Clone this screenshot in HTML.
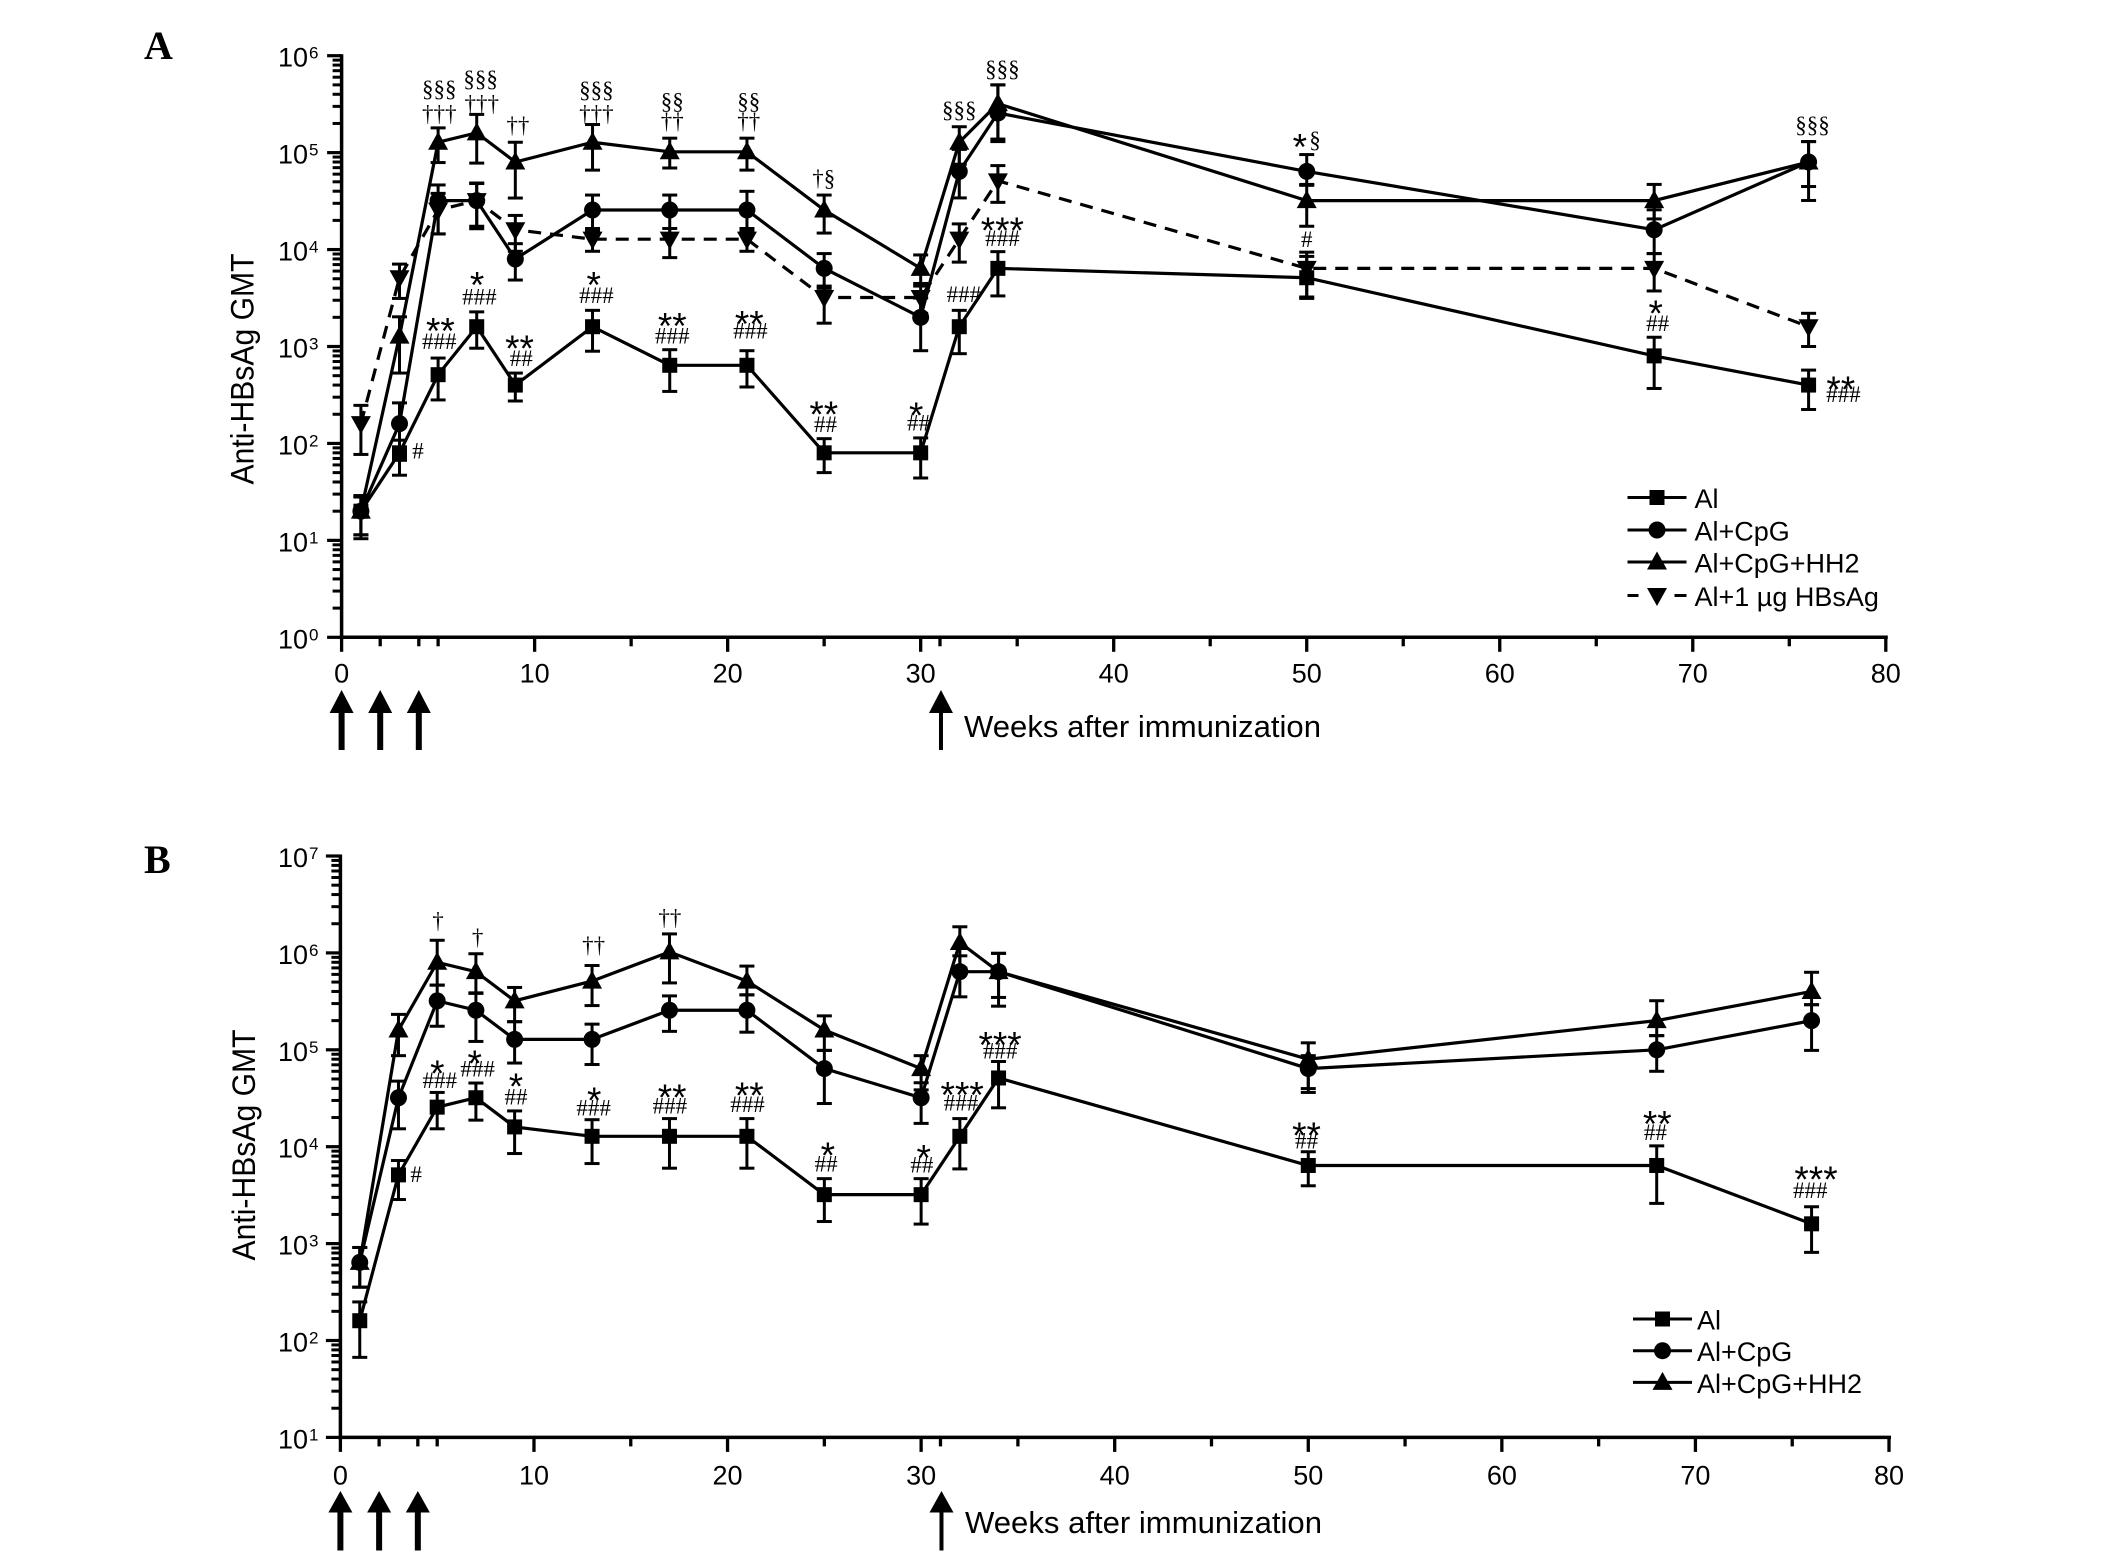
<!DOCTYPE html>
<html lang="en">
<head>
<meta charset="utf-8">
<title>Anti-HBsAg GMT over time</title>
<style>
html,body{margin:0;padding:0;background:#fff;}
svg{display:block;}
text{fill:#000;font-family:"Liberation Sans",Arial,sans-serif;}
.serif{font-family:"Liberation Serif","Times New Roman",serif;}
</style>
</head>
<body>
<svg id="chart" xmlns="http://www.w3.org/2000/svg" width="2126" height="1564" viewBox="0 0 2126 1564"></svg>
<script>
// ---------- shared data ----------
const weeks = [1, 3, 5, 7, 9, 13, 17, 21, 25, 30, 32, 34, 50, 68, 76];
const xTickLabels = [0, 10, 20, 30, 40, 50, 60, 70, 80];
const xMinorTicks = [2, 4, 5, 15, 25, 31, 35, 45, 55, 65, 75];
const immunizationWeeks = [0, 2, 4, 31];

// ---------- panel A ----------
const aAl      = [20, 80, 512, 1600, 400, 1600, 640, 640, 80, 80, 1600, 6400, 5120, 800, 400];
const aAlUp    = [29, 108, 760, 2276, 532, 2360, 927, 905, 112, 114, 2360, 9516, 8500, 1246, 571];
const aAlLow   = [10.4, 47, 281, 960, 274, 894, 344, 382, 50, 44, 843, 3325, 3133, 369, 224];

const aCpg     = [20, 160, 32000, 32000, 8000, 25600, 25600, 25600, 6400, 2000, 64000, 256000, 64000, 16000, 80000];
const aCpgUp   = [28, 262, 46400, 48600, 11500, 36500, 36500, 39900, 9090, 3160, 108000, 500000, 95500, 25700, 130000];
const aCpgLow  = [11.4, 67, 14500, 16400, 4850, 15400, 14600, 15400, 3980, 905, 34100, 130000, 46000, 9090, 44700];

const aHh2     = [20, 1280, 128000, 160000, 80000, 128000, 102000, 102000, 25600, 6400, 128000, 320000, 32000, 32000, 80000];
const aHh2Up   = [28, 2024, 180000, 248000, 128000, 195000, 141000, 141000, 36500, 8800, 185000, 500000, 47000, 47000, 130000];
const aHh2Low  = [11.4, 532, 79000, 78000, 34000, 66000, 69400, 66000, 14800, 4200, 76000, 138000, 17400, 20700, 32100];

const aDose    = [160, 5120, 25600, 32000, 16000, 12800, 12800, 12800, 3200, 3200, 12800, 51200, 6400, 6400, 1600];
const aDoseUp  = [247, 7080, 38000, 48000, 22500, 16500, 16500, 16500, 4200, 4470, 18400, 73500, 9400, 9090, 2200];
const aDoseLow = [77, 3133, 14500, 17400, 9600, 9600, 8260, 9600, 1740, 2200, 7420, 30700, 3240, 3740, 1000];

const aYTickExponents = [0, 1, 2, 3, 4, 5, 6];

// annotation entries: [week, log10 value at glyph centre, text]
const aNotes = [
  [5.06,5.65,"§§§"],[5.06,5.395,"†††"],[7.2,5.754,"§§§"],[7.26,5.498,"†††"],[9.13,5.277,"††"],
  [13.2,5.64,"§§§"],[13.2,5.395,"†††"],[17.13,5.524,"§§"],[17.13,5.318,"††"],
  [21.09,5.524,"§§"],[21.09,5.318,"††"],[24.98,4.728,"†§"],[32.0,5.436,"§§§"],[34.23,5.857,"§§§"],
  [7.02,3.70,"*"],[7.14,3.496,"###"],[13.06,3.70,"*"],[13.2,3.511,"###"],
  [5.12,3.229,"**"],[5.06,3.034,"###"],[9.22,3.049,"**"],[9.31,2.859,"##"],
  [17.13,3.28,"**"],[17.13,3.095,"###"],[21.12,3.30,"**"],[21.18,3.147,"###"],
  [24.98,2.366,"**"],[25.07,2.182,"##"],[29.77,2.356,"*"],[29.89,2.197,"##"],
  [3.96,1.904,"#"],[32.24,3.522,"###"],[34.23,4.266,"***"],[34.23,4.10,"###"],
  [49.64,5.123,"*"],[50.43,5.123,"§"],[50.0,4.09,"#"],[76.2,5.282,"§§§"],
  [68.08,3.409,"*"],[68.18,3.224,"##"],[77.67,2.623,"**"],[77.8,2.49,"###"]
];

// ---------- panel B ----------
const bAl      = [160, 5120, 25600, 32000, 16000, 12800, 12800, 12800, 3200, 3200, 12800, 51200, 6400, 6400, 1600];
const bAlUp    = [250, 7200, 36300, 45400, 23400, 19000, 19500, 19500, 4680, 4680, 19500, 75700, 8870, 10200, 2400];
const bAlLow   = [67, 2850, 15300, 18800, 8500, 6700, 6000, 6000, 1690, 1590, 5900, 25200, 3950, 2600, 812];

const bCpg     = [640, 32000, 320000, 256000, 128000, 128000, 256000, 256000, 64000, 32000, 640000, 640000, 64000, 100000, 200000];
const bCpgUp   = [912, 47500, 465000, 387000, 195000, 184000, 360000, 369000, 98600, 45700, 933000, 990000, 87000, 140000, 292000];
const bCpgLow  = [355, 15300, 175000, 122000, 73000, 70500, 155000, 152000, 27900, 17400, 352000, 282000, 36300, 60000, 98600];

const bHh2     = [640, 160000, 800000, 640000, 320000, 512000, 1024000, 512000, 160000, 64000, 1280000, 640000, 80000, 200000, 400000];
const bHh2Up   = [912, 232000, 1350000, 980000, 440000, 741000, 1570000, 731000, 224000, 87000, 1860000, 990000, 118000, 321000, 631000];
const bHh2Low  = [355, 87000, 465000, 382000, 195000, 286000, 490000, 369000, 98600, 38600, 698000, 347000, 39800, 140000, 292000];

const bYTickExponents = [1, 2, 3, 4, 5, 6, 7];

const bNotes = [
  [5.04,6.322,"†"],[7.09,6.156,"†"],[13.08,6.07,"††"],[17.02,6.357,"††"],
  [5.01,4.823,"*"],[5.13,4.667,"###"],[6.94,4.924,"*"],[7.09,4.788,"###"],
  [9.07,4.687,"*"],[9.07,4.496,"##"],[13.11,4.546,"*"],[13.08,4.385,"###"],
  [17.14,4.576,"**"],[17.02,4.405,"###"],[21.12,4.597,"**"],[21.03,4.42,"###"],
  [25.18,3.978,"*"],[25.09,3.807,"##"],[30.13,3.948,"*"],[30.04,3.797,"##"],
  [3.91,3.696,"#"],[32.12,4.602,"***"],[32.06,4.436,"###"],[34.08,5.115,"***"],[34.08,4.974,"###"],
  [49.91,4.184,"**"],[49.91,4.043,"##"],[68.03,4.30,"**"],[67.93,4.129,"##"],
  [76.23,3.731,"***"],[75.93,3.53,"###"]
];

// ---------- drawing ----------
const NS = 'http://www.w3.org/2000/svg';
const root = document.getElementById('chart');

function mk(parent, tag, name, attrs) {
  const el = document.createElementNS(NS, tag);
  
  
  for (const k in attrs) el.setAttribute(k, attrs[k]);
  parent.appendChild(el);
  return el;
}

function marker(parent, kind, cx, cy, name) {
  if (kind === 'square') {
    return mk(parent, 'rect', name, {x: cx - 7.5, y: cy - 7.5, width: 15, height: 15, fill: '#000'});
  }
  if (kind === 'circle') {
    return mk(parent, 'circle', name, {cx: cx, cy: cy, r: 8.5, fill: '#000'});
  }
  if (kind === 'up') {
    return mk(parent, 'polygon', name, {points: (cx - 10) + ',' + (cy + 7.5) + ' ' + (cx + 10) + ',' + (cy + 7.5) + ' ' + cx + ',' + (cy - 10.5), fill: '#000'});
  }
  return mk(parent, 'polygon', name, {points: (cx - 10) + ',' + (cy - 7.5) + ' ' + (cx + 10) + ',' + (cy - 7.5) + ' ' + cx + ',' + (cy + 10.5), fill: '#000'});
}

function noteOffset(text) {
  if (text.indexOf('*') >= 0) return 19;
  if (text.indexOf('§') >= 0) return 7;
  if (text.indexOf('†') >= 0) return 7;
  return 6;
}

function drawPanel(p) {
  const g = mk(root, 'g', 'panel-' + p.id, {});
  const xS = w => p.x0 + (w / 80) * (p.x1 - p.x0);
  const yS = lg => p.yBottom - (lg - p.logMin) / (p.logMax - p.logMin) * (p.yBottom - p.yTop);
  const yV = v => yS(Math.log10(v));

  const label = mk(g, 'text', 'panel-label', {x: 144, y: p.labelY, class: 'serif', 'font-size': 40, 'font-weight': 'bold'});
  label.textContent = p.id;

  // axes
  const axes = mk(g, 'g', 'axes', {stroke: '#000', 'stroke-width': 3.5, fill: 'none'});
  mk(axes, 'line', 'y-axis', {x1: p.x0, x2: p.x0, y1: p.yTop - 1.5, y2: p.yBottom + 2});
  mk(axes, 'line', 'x-axis', {x1: p.x0 - 2, x2: p.x1 + 2, y1: p.yBottom, y2: p.yBottom});

  xTickLabels.forEach(t => {
    mk(axes, 'line', 'x-major-tick', {x1: xS(t), x2: xS(t), y1: p.yBottom, y2: p.yBottom + 14.5, 'stroke-width': 3.3});
    const tx = mk(g, 'text', 'x-tick-label', {x: xS(t), y: p.xLabelY, 'text-anchor': 'middle', 'font-size': 27});
    tx.textContent = t;
  });
  xMinorTicks.forEach(t => {
    mk(axes, 'line', 'x-minor-tick', {x1: xS(t), x2: xS(t), y1: p.yBottom, y2: p.yBottom + 9, 'stroke-width': 3.3});
  });

  p.exps.forEach((e, i) => {
    const y = yS(e);
    mk(axes, 'line', 'y-major-tick', {x1: p.x0 - 14.5, x2: p.x0, y1: y, y2: y, 'stroke-width': 3.2});
    if (i < p.exps.length - 1) {
      for (let m = 2; m < 10; m++) {
        const ym = yS(e + Math.log10(m));
        mk(axes, 'line', 'y-minor-tick', {x1: p.x0 - 9, x2: p.x0, y1: ym, y2: ym, 'stroke-width': 3});
      }
    }
    const base = mk(g, 'text', 'y-tick-label', {x: 308, y: y + 11, 'text-anchor': 'end', 'font-size': 27});
    base.textContent = '10';
    const sup = mk(g, 'text', 'y-tick-exponent', {x: 309, y: y + 3, 'font-size': 17});
    sup.textContent = e;
  });

  const yt = mk(g, 'text', 'y-axis-title', {
    transform: 'translate(' + p.titleX + ',' + p.titleY + ') rotate(-90)',
    'text-anchor': 'middle', 'font-size': 32, textLength: 231, lengthAdjust: 'spacingAndGlyphs'
  });
  yt.textContent = 'Anti-HBsAg GMT';

  const xt = mk(g, 'text', 'x-axis-title', {x: p.xTitleX, y: p.xTitleY, 'font-size': 31, textLength: 357, lengthAdjust: 'spacingAndGlyphs'});
  xt.textContent = 'Weeks after immunization';

  // arrows
  immunizationWeeks.forEach((w, i) => {
    const ax = xS(w) + (i === 3 ? 1 : 0);
    const a = mk(g, 'g', 'immunization-arrow', {});
    mk(a, 'line', 'arrow-shaft', {x1: ax, x2: ax, y1: p.arrowBase - 2, y2: p.arrowEnd, stroke: '#000', 'stroke-width': i === 3 ? 4 : 6});
    mk(a, 'polygon', 'arrow-head', {points: (ax - 12) + ',' + p.arrowBase + ' ' + (ax + 12) + ',' + p.arrowBase + ' ' + ax + ',' + p.arrowTop, fill: '#000'});
  });

  // series
  p.series.forEach(s => {
    const sg = mk(g, 'g', 'series-' + s.key, {});
    s.up.forEach((u, i) => {
      const x = xS(weeks[i]);
      const yu = yV(u), yl = yV(s.low[i]);
      mk(sg, 'line', 'error-bar', {x1: x, x2: x, y1: yu, y2: yl, stroke: '#000', 'stroke-width': 3});
      mk(sg, 'line', 'error-cap-upper', {x1: x - 7.5, x2: x + 7.5, y1: yu, y2: yu, stroke: '#000', 'stroke-width': 3});
      mk(sg, 'line', 'error-cap-lower', {x1: x - 7.5, x2: x + 7.5, y1: yl, y2: yl, stroke: '#000', 'stroke-width': 3});
    });
    const pts = s.vals.map((v, i) => xS(weeks[i]) + ',' + yV(v)).join(' ');
    const line = mk(sg, 'polyline', 'series-line', {points: pts, fill: 'none', stroke: '#000', 'stroke-width': 3.2});
    if (s.dash) line.setAttribute('stroke-dasharray', '13 9');
    s.vals.forEach((v, i) => {
      marker(sg, s.kind, xS(weeks[i]), yV(v), 'data-point');
    });
  });

  // significance annotations
  const ng = mk(g, 'g', 'significance-annotations', {});
  p.notes.forEach(n => {
    const star = n[2].indexOf('*') >= 0;
    const t = mk(ng, 'text', 'significance-mark', {
      x: xS(n[0]),
      y: yS(n[1]) + noteOffset(n[2]),
      'text-anchor': 'middle',
      'font-size': star ? 37 : 23
    });
    if (!star) t.setAttribute('class', 'serif');
    t.textContent = n[2];
  });

  // legend
  const lg = mk(g, 'g', 'legend', {});
  p.series.forEach((s, i) => {
    const y = p.legendY[i];
    const e = mk(lg, 'g', 'legend-entry', {});
    const ll = mk(e, 'line', 'legend-line', {x1: p.legendX, x2: p.legendX + 59, y1: y, y2: y, stroke: '#000', 'stroke-width': 3});
    if (s.dash) ll.setAttribute('stroke-dasharray', '11 36 12 20');
    marker(e, s.kind, p.legendX + 29.5, y, 'legend-marker');
    const lt = mk(e, 'text', 'legend-label', {x: p.legendTextX, y: y + 10.5, 'font-size': 27});
    lt.textContent = s.name;
  });
}

drawPanel({
  id: 'A', x0: 341.6, x1: 1885.8, yTop: 55.7, yBottom: 637.3, logMin: 0, logMax: 6,
  exps: aYTickExponents, labelY: 59, xLabelY: 682.5, titleX: 253.3, titleY: 369,
  xTitleX: 964, xTitleY: 737, arrowTop: 690, arrowBase: 713, arrowEnd: 750,
  legendX: 1627.5, legendTextX: 1694.5, legendY: [497.5, 530, 562, 595.5], notes: aNotes,
  series: [
    {key: 'al', name: 'Al', kind: 'square', vals: aAl, up: aAlUp, low: aAlLow},
    {key: 'al-cpg', name: 'Al+CpG', kind: 'circle', vals: aCpg, up: aCpgUp, low: aCpgLow},
    {key: 'al-cpg-hh2', name: 'Al+CpG+HH2', kind: 'up', vals: aHh2, up: aHh2Up, low: aHh2Low},
    {key: 'al-1ug-hbsag', name: 'Al+1 µg HBsAg', kind: 'down', dash: true, vals: aDose, up: aDoseUp, low: aDoseLow}
  ]
});

drawPanel({
  id: 'B', x0: 340.4, x1: 1889, yTop: 856, yBottom: 1437.4, logMin: 1, logMax: 7,
  exps: bYTickExponents, labelY: 873, xLabelY: 1484.5, titleX: 255, titleY: 1145,
  xTitleX: 965, xTitleY: 1533, arrowTop: 1491, arrowBase: 1512.5, arrowEnd: 1550.5,
  legendX: 1633, legendTextX: 1697, legendY: [1319, 1350.7, 1382.4], notes: bNotes,
  series: [
    {key: 'al', name: 'Al', kind: 'square', vals: bAl, up: bAlUp, low: bAlLow},
    {key: 'al-cpg', name: 'Al+CpG', kind: 'circle', vals: bCpg, up: bCpgUp, low: bCpgLow},
    {key: 'al-cpg-hh2', name: 'Al+CpG+HH2', kind: 'up', vals: bHh2, up: bHh2Up, low: bHh2Low}
  ]
});
</script>
</body>
</html>
